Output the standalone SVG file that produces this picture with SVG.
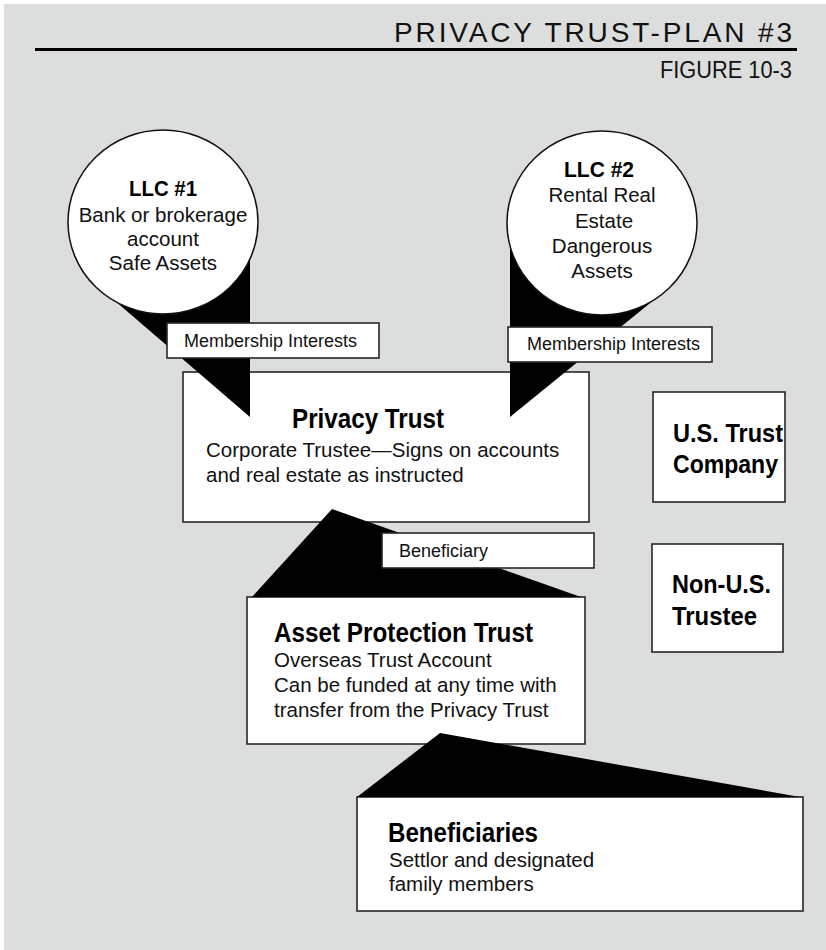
<svg xmlns="http://www.w3.org/2000/svg" width="826" height="950" viewBox="0 0 826 950">
<style>
.box{fill:#fff;stroke:#262626;stroke-width:1.6}
.circ{fill:#fff;stroke:#111;stroke-width:1.5}
.wedge{fill:#000;stroke:none}
.t{font-family:"Liberation Sans",Arial,sans-serif;fill:#111}
.body{font-size:20.5px}
.lbl{font-size:18px}
.b{font-family:"Liberation Sans",Arial,sans-serif;font-weight:bold;fill:#000}
</style>
<rect x="0" y="0" width="826" height="950" fill="#ffffff"/>
<rect x="4" y="4" width="822" height="946" fill="#dcdedd"/>
<g id="header">
<text class="t" x="792" y="42" font-size="28" text-anchor="end" textLength="398" lengthAdjust="spacing">PRIVACY TRUST-PLAN #3</text>
<line x1="35" y1="49.5" x2="797" y2="49.5" stroke="#000" stroke-width="3"/>
<text class="t" x="792" y="78" font-size="23" text-anchor="end" textLength="132" lengthAdjust="spacingAndGlyphs">FIGURE 10-3</text>
</g>
<g id="privacy-trust">
<rect class="box" x="183" y="372" width="406" height="150"/>
<text class="b" x="368" y="428" font-size="28" text-anchor="middle" textLength="152" lengthAdjust="spacingAndGlyphs">Privacy Trust</text>
<text class="t body" x="206" y="457">Corporate Trustee—Signs on accounts</text>
<text class="t body" x="206" y="482">and real estate as instructed</text>
</g>
<g id="asset-protection-trust">
<rect class="box" x="247" y="597" width="338" height="147"/>
<text class="b" x="274" y="642" font-size="27" textLength="259" lengthAdjust="spacingAndGlyphs">Asset Protection Trust</text>
<text class="t body" x="274" y="667">Overseas Trust Account</text>
<text class="t body" x="274" y="692">Can be funded at any time with</text>
<text class="t body" x="274" y="717">transfer from the Privacy Trust</text>
</g>
<g id="us-trust-company">
<rect class="box" x="653" y="392" width="132" height="110"/>
<text class="b" x="673" y="442" font-size="26" textLength="110" lengthAdjust="spacingAndGlyphs">U.S. Trust</text>
<text class="b" x="673" y="473" font-size="26" textLength="105" lengthAdjust="spacingAndGlyphs">Company</text>
</g>
<g id="non-us-trustee">
<rect class="box" x="652" y="544" width="131" height="108"/>
<text class="b" x="672" y="593" font-size="26" textLength="99" lengthAdjust="spacingAndGlyphs">Non-U.S.</text>
<text class="b" x="672" y="625" font-size="26" textLength="85" lengthAdjust="spacingAndGlyphs">Trustee</text>
</g>
<g id="beneficiaries">
<rect class="box" x="357" y="797" width="446" height="114"/>
<text class="b" x="388" y="842" font-size="27" textLength="150" lengthAdjust="spacingAndGlyphs">Beneficiaries</text>
<text class="t body" x="389" y="867">Settlor and designated</text>
<text class="t body" x="389" y="891">family members</text>
</g>
<g id="connectors">
<polygon class="wedge" points="100,288 250,240 250,417"/>
<polygon class="wedge" points="510,417 510,235 664,291.7"/>
<polygon class="wedge" points="332,509 581,597 252,597"/>
<polygon class="wedge" points="440,733 800,797 357,797"/>
<rect class="box" x="167" y="323" width="212" height="35"/>
<text class="t lbl" x="184" y="347">Membership Interests</text>
<rect class="box" x="508" y="327" width="204" height="35"/>
<text class="t lbl" x="527" y="350">Membership Interests</text>
<rect class="box" x="382" y="533" width="212" height="35"/>
<text class="t lbl" x="399" y="557">Beneficiary</text>
</g>
<g id="llc1">
<ellipse class="circ" cx="163" cy="222" rx="95" ry="92"/>
<text class="b" x="163" y="196" font-size="22" text-anchor="middle" textLength="68" lengthAdjust="spacingAndGlyphs">LLC #1</text>
<text class="t body" x="163" y="222" text-anchor="middle">Bank or brokerage</text>
<text class="t body" x="163" y="246" text-anchor="middle">account</text>
<text class="t body" x="163" y="270" text-anchor="middle">Safe Assets</text>
</g>
<g id="llc2">
<ellipse class="circ" cx="602" cy="223" rx="95" ry="92"/>
<text class="b" x="599" y="177" font-size="22" text-anchor="middle" textLength="70" lengthAdjust="spacingAndGlyphs">LLC #2</text>
<text class="t body" x="602" y="202" text-anchor="middle">Rental Real</text>
<text class="t body" x="604" y="228" text-anchor="middle">Estate</text>
<text class="t body" x="602" y="253" text-anchor="middle">Dangerous</text>
<text class="t body" x="602" y="278" text-anchor="middle">Assets</text>
</g>
</svg>
